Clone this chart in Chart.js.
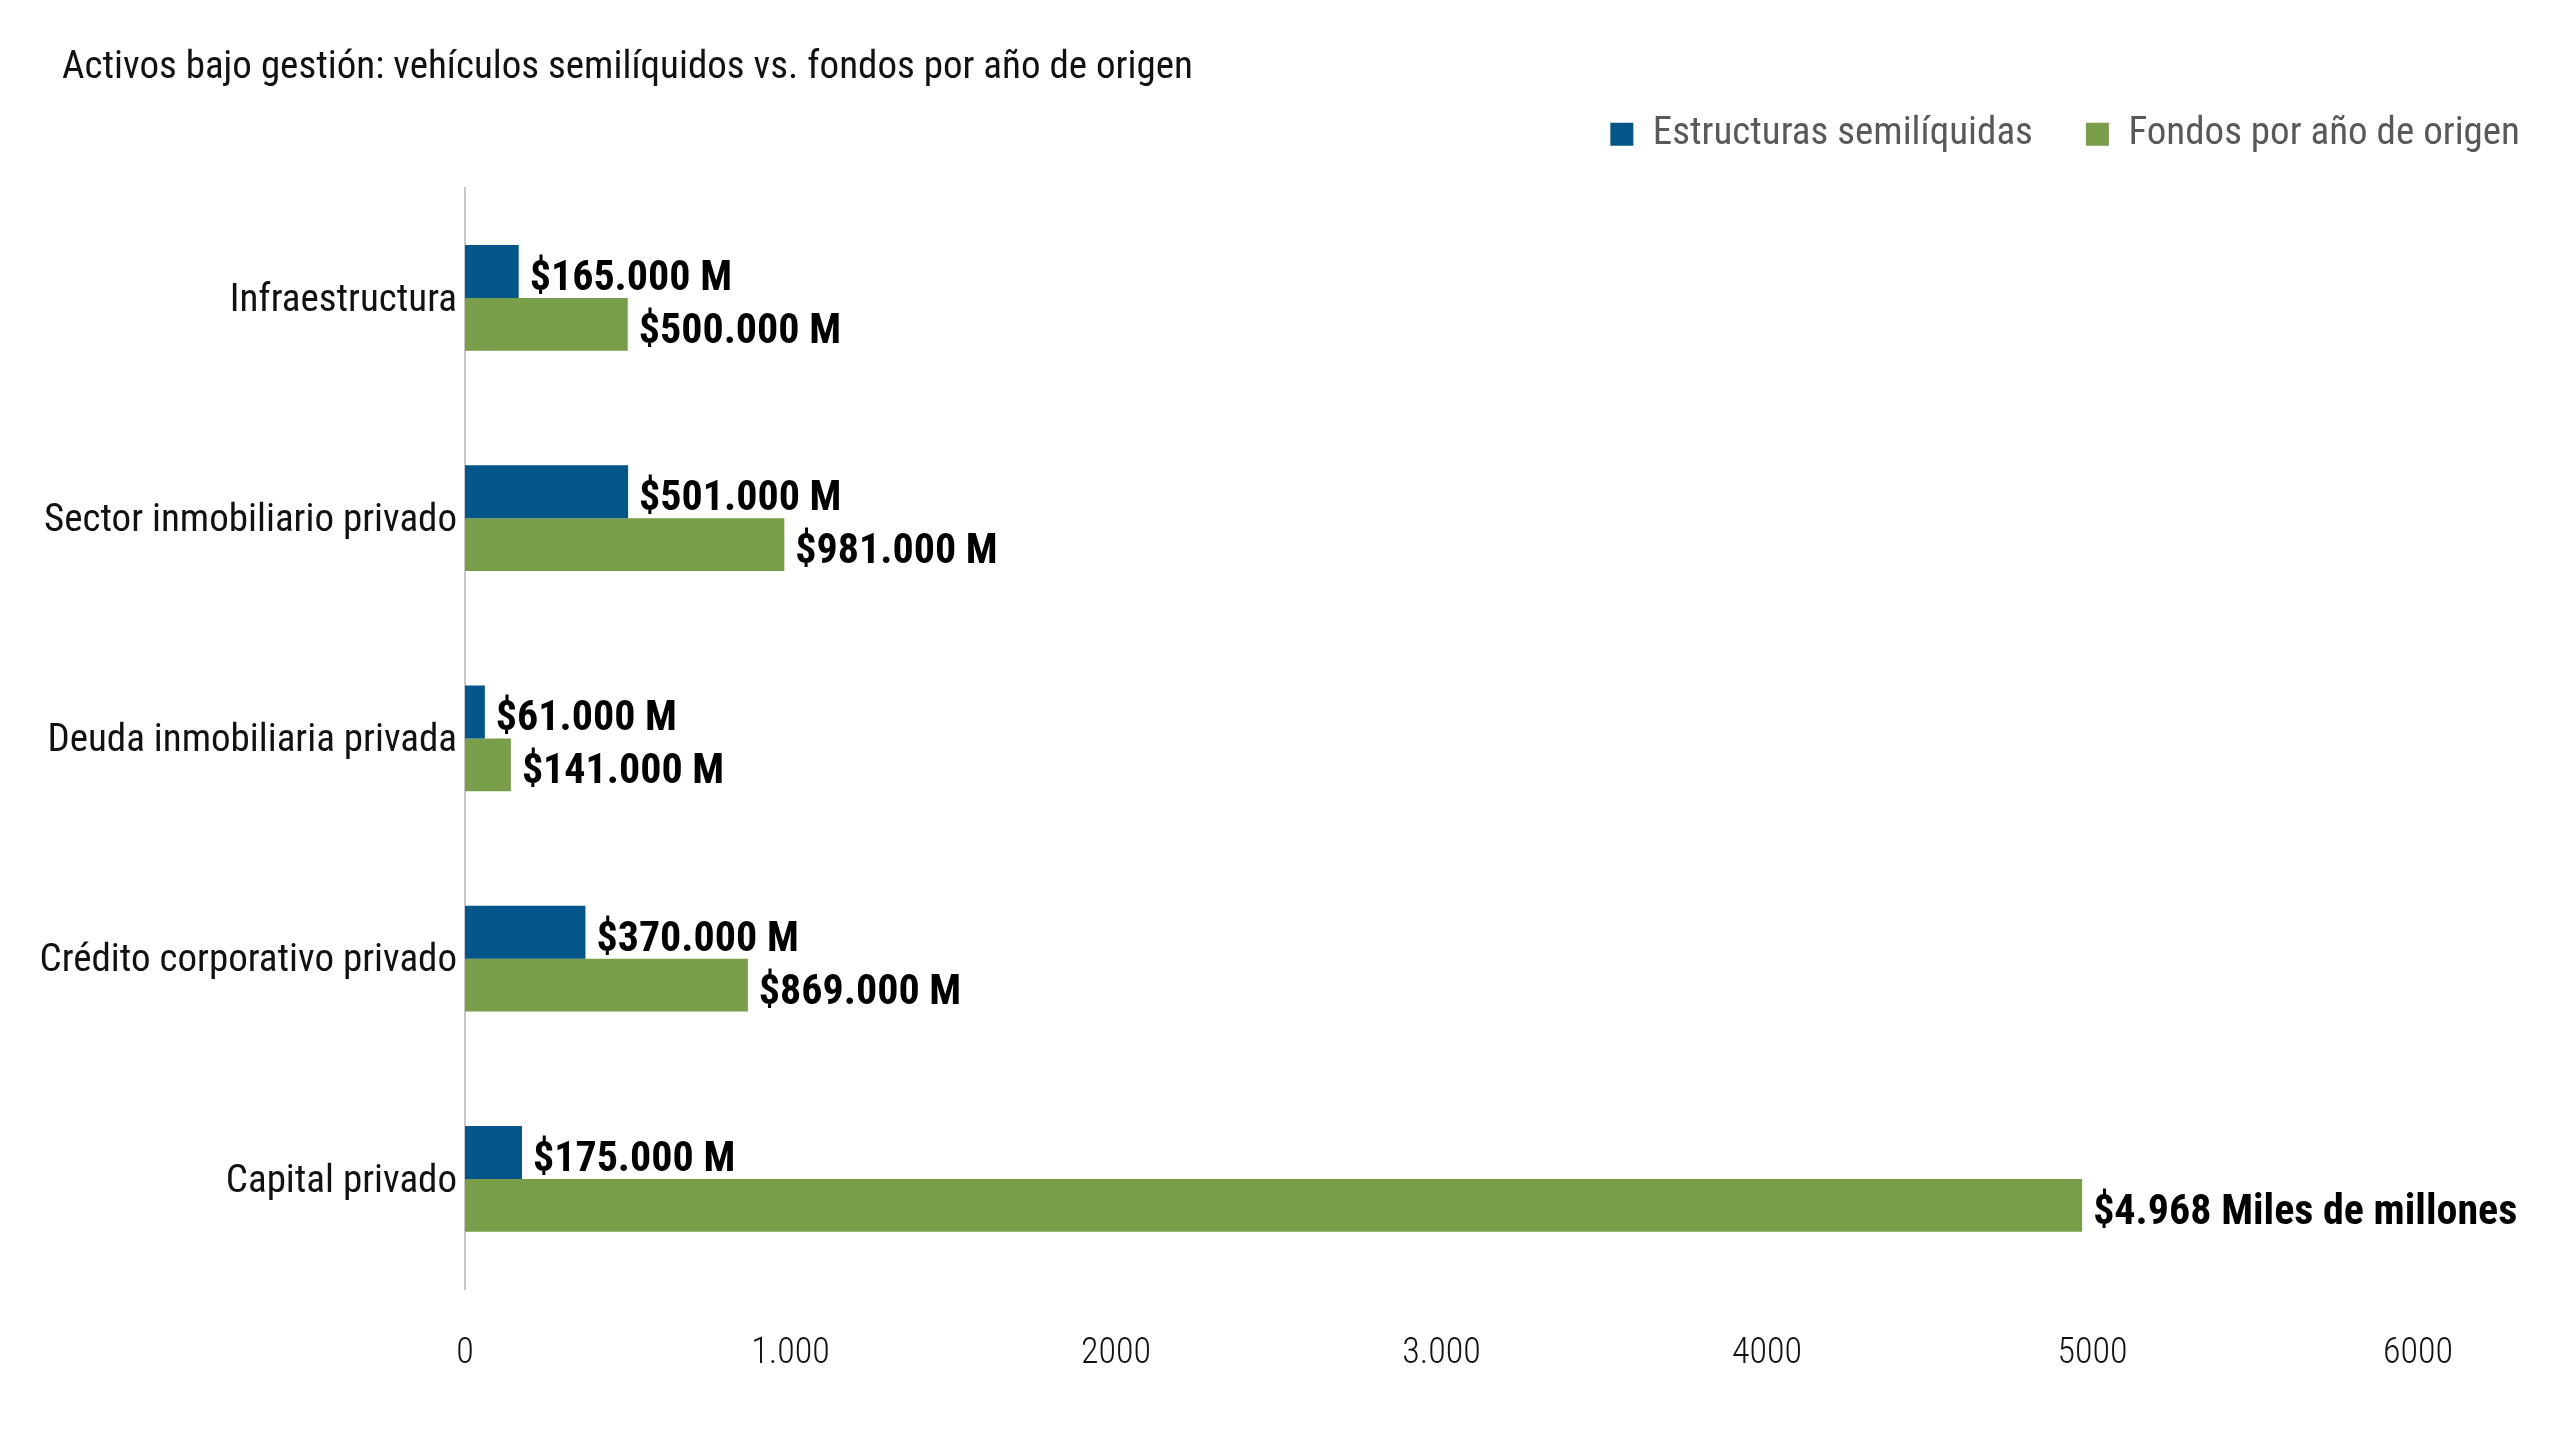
<!DOCTYPE html>
<html>
<head>
<meta charset="utf-8">
<script src="https://cdn.jsdelivr.net/npm/chart.js@4.4.1/dist/chart.umd.min.js"></script>
<style>
  html, body { margin: 0; padding: 0; background: #ffffff; }
  canvas { display: block; }
</style>
</head>
<body>
<canvas id="c" width="2560" height="1440"></canvas>
<script>
// ---- data ----
const chartTitle = 'Activos bajo gestión: vehículos semilíquidos vs. fondos por año de origen';
const categories = ['Infraestructura', 'Sector inmobiliario privado', 'Deuda inmobiliaria privada', 'Crédito corporativo privado', 'Capital privado'];
const seriesNames = ['Estructuras semilíquidas', 'Fondos por año de origen'];
const semiliquidValues = [165, 501, 61, 370, 175];
const vintageValues = [500, 981, 141, 869, 4968];
const semiliquidLabels = ['$165.000 M', '$501.000 M', '$61.000 M', '$370.000 M', '$175.000 M'];
const vintageLabels = ['$500.000 M', '$981.000 M', '$141.000 M', '$869.000 M', '$4.968 Miles de millones'];
const tickValues = [0, 1000, 2000, 3000, 4000, 5000, 6000];
const tickLabels = ['0', '1.000', '2000', '3.000', '4000', '5000', '6000'];

// ---- style ----
const FONT = '"Roboto Condensed", "Liberation Sans Narrow", "DejaVu Sans Condensed", sans-serif';
const BLUE = '#02568a';
const GREEN = '#799e4a';

const valueLabelPlugin = {
  id: 'valueLabels',
  afterDatasetsDraw(chart) {
    const ctx = chart.ctx;
    const labelSets = [semiliquidLabels, vintageLabels];
    ctx.save();
    ctx.font = 'bold 42px ' + FONT;
    ctx.fillStyle = '#000000';
    ctx.textAlign = 'left';
    ctx.textBaseline = 'middle';
    chart.data.datasets.forEach((ds, di) => {
      const meta = chart.getDatasetMeta(di);
      meta.data.forEach((bar, i) => {
        ctx.fillText(labelSets[di][i], bar.x + 11, bar.y + 8);
      });
    });
    ctx.restore();
  }
};

function shiftBox(box, ctx, dx, dy) {
  if (!box) return;
  const origDraw = box.draw.bind(box);
  box.draw = function () {
    ctx.save();
    ctx.translate(dx, dy);
    origDraw();
    ctx.restore();
  };
}

const boxShiftPlugin = {
  id: 'boxShift',
  afterInit(chart) {
    shiftBox(chart.legend, chart.ctx, 13, -24);
    shiftBox(chart.titleBlock, chart.ctx, 62, 6);
  }
};

new Chart(document.getElementById('c'), {
  type: 'bar',
  data: {
    labels: categories,
    datasets: [
      { label: seriesNames[0], data: semiliquidValues, backgroundColor: BLUE, categoryPercentage: 0.48, barPercentage: 1.0 },
      { label: seriesNames[1], data: vintageValues, backgroundColor: GREEN, categoryPercentage: 0.48, barPercentage: 1.0 }
    ]
  },
  options: {
    indexAxis: 'y',
    responsive: false,
    animation: false,
    devicePixelRatio: 1,
    layout: { padding: { top: 0, left: 0, right: 0, bottom: 63 } },
    plugins: {
      title: {
        display: true,
        text: chartTitle,
        align: 'start',
        color: '#111111',
        font: { family: FONT, size: 39, weight: 'normal' },
        padding: { top: 39, bottom: 0 }
      },
      legend: {
        display: true,
        position: 'top',
        align: 'end',
        labels: {
          boxWidth: 23,
          boxHeight: 23,
          padding: 53,
          color: '#58595b',
          font: { family: FONT, size: 39 }
        }
      },
      tooltip: { enabled: false }
    },
    scales: {
      x: {
        type: 'linear',
        min: 0,
        max: 6436,
        grid: { display: false, drawTicks: false },
        border: { display: false },
        ticks: {
          padding: 43,
          color: '#111111',
          font: { family: FONT, size: 36, weight: 300 },
          callback: (v) => tickLabels[tickValues.indexOf(v)]
        },
        afterBuildTicks(scale) {
          scale.ticks = tickValues.map(v => ({ value: v }));
        },
        afterFit(scale) { scale.height = 88; }
      },
      y: {
        grid: { display: false, drawTicks: false },
        border: { display: true, color: '#c8c8c8', width: 2 },
        ticks: {
          padding: 8,
          labelOffset: 3,
          color: '#111111',
          font: { family: FONT, size: 39 }
        },
        afterFit(scale) { scale.width = 465; }
      }
    }
  },
  plugins: [valueLabelPlugin, boxShiftPlugin]
});
</script>
</body>
</html>
